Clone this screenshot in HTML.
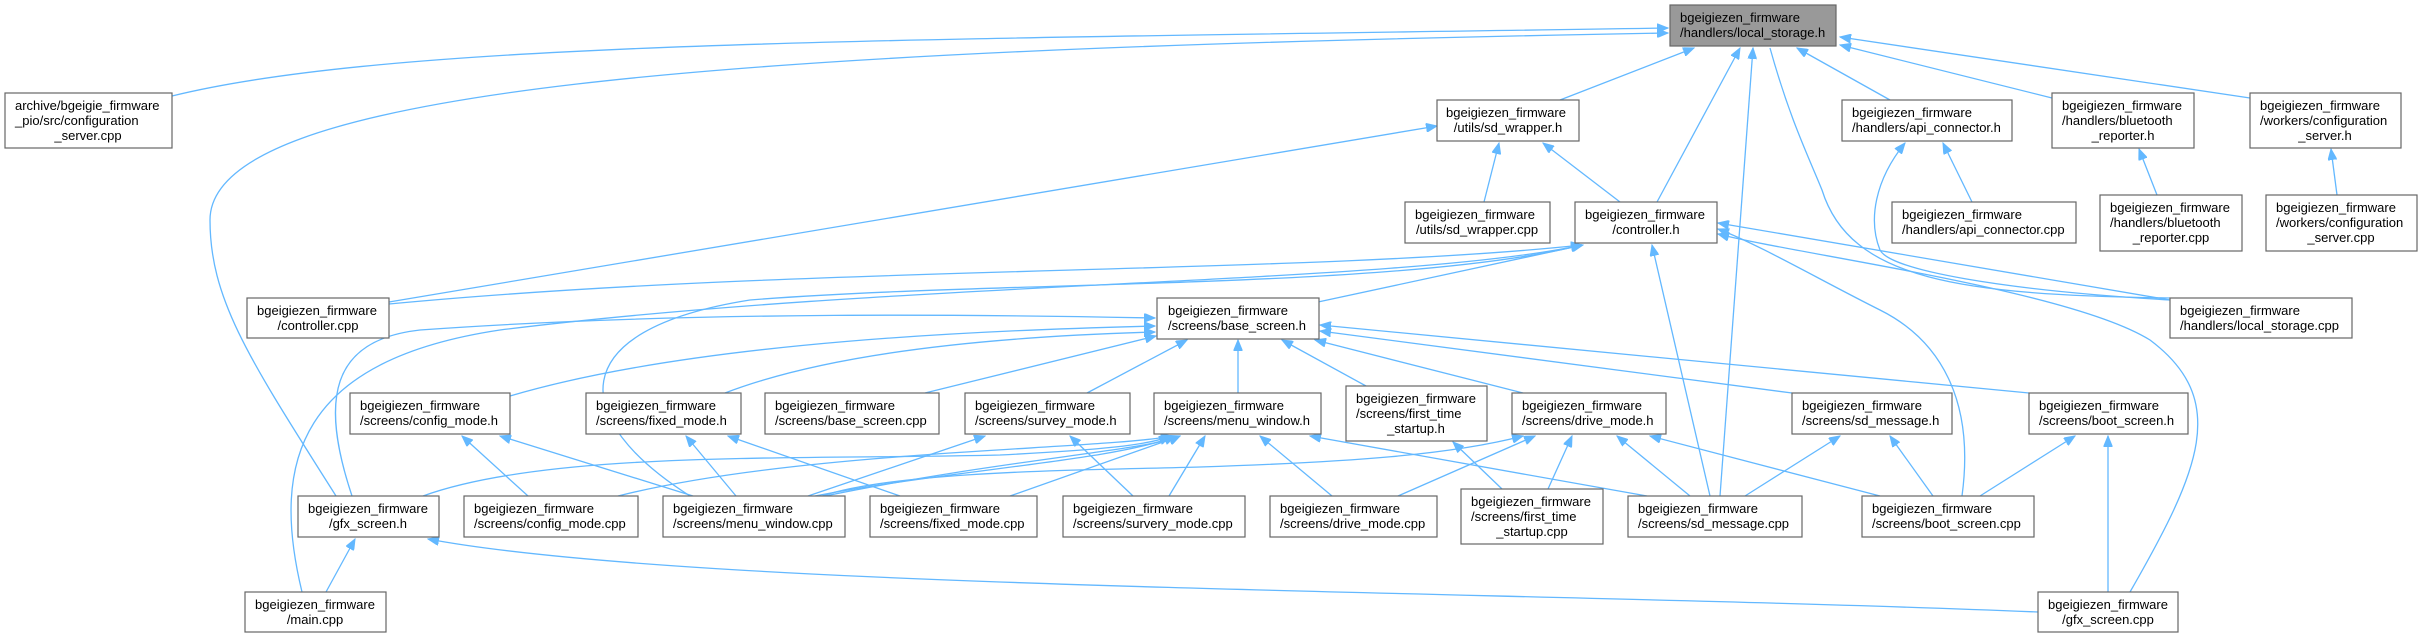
<!DOCTYPE html>
<html><head><meta charset="utf-8"><style>
html,body{margin:0;padding:0;background:#fff;}
svg{display:block;}
text{font-family:"Liberation Sans",Arial,sans-serif;font-size:13px;fill:#000;}
.e{fill:none;stroke:#63b8ff;stroke-width:1.3;}
.n{fill:#fff;stroke:#666;stroke-width:1.2;}
.g{fill:#999;stroke:#666;stroke-width:1.2;}
</style></head><body>
<svg width="2423" height="637" viewBox="0 0 2423 637" xmlns="http://www.w3.org/2000/svg">
<defs><marker id="a" markerUnits="userSpaceOnUse" markerWidth="12" markerHeight="9" refX="11" refY="4.5" orient="auto"><path d="M0,0 L11,4.5 L0,9 z" fill="#63b8ff" stroke="#63b8ff"/></marker></defs>
<g class="e" marker-end="url(#a)">
<!-- to local_storage.h -->
<path d="M172,96 C400,40 900,40 1668,28"/>
<path d="M336,496 C250,360 210,300 210,220 C210,90 700,50 1668,33"/>
<path d="M1560,100 L1694,48"/>
<path d="M1657,202 L1740,48"/>
<path d="M1720,496 L1753,48"/>
<path d="M1822,190 C1850,280 1960,295 2170,298 M1770,48 C1790,120 1810,160 1822,190" marker-end="none"/>
<path d="M1890,100 L1797,48"/>
<path d="M2052,98 L1840,45"/>
<path d="M2250,98 L1840,37"/>
<!-- sd_wrapper.h -->
<path d="M389,302 L1437,126"/>
<path d="M1484,202 L1499,143"/>
<path d="M1620,202 L1543,143"/>
<!-- api_connector -->
<path d="M1972,202 L1943,143"/>
<path d="M2170,300 C2000,290 1890,270 1880,250 C1868,220 1875,180 1905,143"/>
<path d="M2157,195 L2139,149"/>
<path d="M2337,195 L2331,149"/>
<!-- controller.h -->
<path d="M389,304 C800,265 1300,275 1582,245"/>
<path d="M302,592 C270,460 300,360 500,330 C900,280 1400,285 1582,245"/>
<path d="M690,496 C570,420 560,330 750,300 C1000,280 1400,290 1582,245"/>
<path d="M1318,302 L1583,245"/>
<path d="M1710,496 L1652,245"/>
<path d="M2170,300 L1718,223"/>
<path d="M1962,496 C1975,400 1940,340 1880,310 C1820,280 1760,245 1718,229"/>
<path d="M2130,592 C2200,470 2230,400 2150,340 C2070,290 1800,255 1718,234"/>
<!-- gfx_screen.h -->
<path d="M326,592 L355,539"/>
<path d="M2038,612 C1500,590 700,590 428,539"/>
<!-- base_screen.h -->
<path d="M352,496 C320,400 330,340 420,330 C700,310 1000,315 1155,318"/>
<path d="M510,396 C700,340 1000,330 1155,326"/>
<path d="M725,393 C850,345 1050,335 1155,332"/>
<path d="M925,393 L1156,336"/>
<path d="M1087,393 L1187,340"/>
<path d="M1238,393 L1238,340"/>
<path d="M1366,386 L1282,340"/>
<path d="M1523,393 L1315,340"/>
<path d="M1792,393 L1320,331"/>
<path d="M2029,393 L1320,325"/>
<!-- config_mode.h -->
<path d="M528,496 L462,436"/>
<path d="M693,496 L500,436"/>
<!-- fixed_mode.h -->
<path d="M736,496 L686,436"/>
<path d="M900,496 L728,436"/>
<!-- survey_mode.h -->
<path d="M808,496 L985,436"/>
<path d="M1133,496 L1070,436"/>
<!-- menu_window.h -->
<path d="M423,496 C550,450 800,460 1000,455 C1100,450 1150,445 1170,436"/>
<path d="M618,496 C800,450 1100,450 1172,436"/>
<path d="M815,496 C950,470 1120,460 1175,436"/>
<path d="M825,496 C1000,460 1150,450 1180,436"/>
<path d="M1010,496 L1180,436"/>
<path d="M1169,496 L1205,436"/>
<path d="M1332,496 L1260,436"/>
<path d="M1647,496 L1310,436"/>
<!-- drive_mode.h -->
<path d="M822,496 C900,470 1100,470 1200,467 C1350,462 1450,455 1523,436"/>
<path d="M1398,496 L1535,436"/>
<path d="M1548,489 L1572,436"/>
<path d="M1690,496 L1617,436"/>
<path d="M1880,496 L1650,436"/>
<path d="M1502,489 L1453,442"/>
<!-- sd_message.h -->
<path d="M1745,496 L1840,436"/>
<path d="M1933,496 L1890,436"/>
<!-- boot_screen.h -->
<path d="M1980,496 L2075,436"/>
<path d="M2108,592 L2108,436"/>
</g>
<g>
<rect class="g" x="1670" y="5" width="166" height="41"/>
<text x="1680" y="22">bgeigiezen_firmware</text><text x="1680" y="37">/handlers/local_storage.h</text>

<rect class="n" x="5" y="93" width="167" height="55"/>
<text x="15" y="110">archive/bgeigie_firmware</text><text x="15" y="125">_pio/src/configuration</text><text x="88" y="140" text-anchor="middle">_server.cpp</text>

<rect class="n" x="1437" y="100" width="142" height="41"/>
<text x="1446" y="117">bgeigiezen_firmware</text><text x="1508" y="132" text-anchor="middle">/utils/sd_wrapper.h</text>
<rect class="n" x="1842" y="100" width="170" height="41"/>
<text x="1852" y="117">bgeigiezen_firmware</text><text x="1852" y="132">/handlers/api_connector.h</text>
<rect class="n" x="2052" y="93" width="142" height="55"/>
<text x="2062" y="110">bgeigiezen_firmware</text><text x="2062" y="125">/handlers/bluetooth</text><text x="2123" y="140" text-anchor="middle">_reporter.h</text>
<rect class="n" x="2250" y="93" width="151" height="55"/>
<text x="2260" y="110">bgeigiezen_firmware</text><text x="2260" y="125">/workers/configuration</text><text x="2325" y="140" text-anchor="middle">_server.h</text>

<rect class="n" x="1405" y="202" width="145" height="41"/>
<text x="1415" y="219">bgeigiezen_firmware</text><text x="1477" y="234" text-anchor="middle">/utils/sd_wrapper.cpp</text>
<rect class="n" x="1575" y="202" width="142" height="41"/>
<text x="1585" y="219">bgeigiezen_firmware</text><text x="1646" y="234" text-anchor="middle">/controller.h</text>
<rect class="n" x="1892" y="202" width="184" height="41"/>
<text x="1902" y="219">bgeigiezen_firmware</text><text x="1902" y="234">/handlers/api_connector.cpp</text>
<rect class="n" x="2100" y="195" width="142" height="56"/>
<text x="2110" y="212">bgeigiezen_firmware</text><text x="2110" y="227">/handlers/bluetooth</text><text x="2171" y="242" text-anchor="middle">_reporter.cpp</text>
<rect class="n" x="2266" y="195" width="151" height="56"/>
<text x="2276" y="212">bgeigiezen_firmware</text><text x="2276" y="227">/workers/configuration</text><text x="2341" y="242" text-anchor="middle">_server.cpp</text>

<rect class="n" x="247" y="298" width="142" height="40"/>
<text x="257" y="315">bgeigiezen_firmware</text><text x="318" y="330" text-anchor="middle">/controller.cpp</text>
<rect class="n" x="1157" y="298" width="162" height="41"/>
<text x="1168" y="315">bgeigiezen_firmware</text><text x="1168" y="330">/screens/base_screen.h</text>
<rect class="n" x="2170" y="298" width="182" height="40"/>
<text x="2180" y="315">bgeigiezen_firmware</text><text x="2180" y="330">/handlers/local_storage.cpp</text>

<rect class="n" x="350" y="393" width="160" height="41"/>
<text x="360" y="410">bgeigiezen_firmware</text><text x="360" y="425">/screens/config_mode.h</text>
<rect class="n" x="586" y="393" width="155" height="41"/>
<text x="596" y="410">bgeigiezen_firmware</text><text x="596" y="425">/screens/fixed_mode.h</text>
<rect class="n" x="765" y="393" width="174" height="41"/>
<text x="775" y="410">bgeigiezen_firmware</text><text x="775" y="425">/screens/base_screen.cpp</text>
<rect class="n" x="965" y="393" width="165" height="41"/>
<text x="975" y="410">bgeigiezen_firmware</text><text x="975" y="425">/screens/survey_mode.h</text>
<rect class="n" x="1154" y="393" width="167" height="41"/>
<text x="1164" y="410">bgeigiezen_firmware</text><text x="1164" y="425">/screens/menu_window.h</text>
<rect class="n" x="1346" y="386" width="141" height="55"/>
<text x="1356" y="403">bgeigiezen_firmware</text><text x="1356" y="418">/screens/first_time</text><text x="1416" y="433" text-anchor="middle">_startup.h</text>
<rect class="n" x="1512" y="393" width="154" height="41"/>
<text x="1522" y="410">bgeigiezen_firmware</text><text x="1522" y="425">/screens/drive_mode.h</text>
<rect class="n" x="1792" y="393" width="160" height="41"/>
<text x="1802" y="410">bgeigiezen_firmware</text><text x="1802" y="425">/screens/sd_message.h</text>
<rect class="n" x="2029" y="393" width="159" height="41"/>
<text x="2039" y="410">bgeigiezen_firmware</text><text x="2039" y="425">/screens/boot_screen.h</text>

<rect class="n" x="298" y="496" width="141" height="41"/>
<text x="308" y="513">bgeigiezen_firmware</text><text x="368" y="528" text-anchor="middle">/gfx_screen.h</text>
<rect class="n" x="464" y="496" width="174" height="41"/>
<text x="474" y="513">bgeigiezen_firmware</text><text x="474" y="528">/screens/config_mode.cpp</text>
<rect class="n" x="663" y="496" width="182" height="41"/>
<text x="673" y="513">bgeigiezen_firmware</text><text x="673" y="528">/screens/menu_window.cpp</text>
<rect class="n" x="870" y="496" width="167" height="41"/>
<text x="880" y="513">bgeigiezen_firmware</text><text x="880" y="528">/screens/fixed_mode.cpp</text>
<rect class="n" x="1063" y="496" width="182" height="41"/>
<text x="1073" y="513">bgeigiezen_firmware</text><text x="1073" y="528">/screens/survery_mode.cpp</text>
<rect class="n" x="1270" y="496" width="167" height="41"/>
<text x="1280" y="513">bgeigiezen_firmware</text><text x="1280" y="528">/screens/drive_mode.cpp</text>
<rect class="n" x="1461" y="489" width="142" height="55"/>
<text x="1471" y="506">bgeigiezen_firmware</text><text x="1471" y="521">/screens/first_time</text><text x="1532" y="536" text-anchor="middle">_startup.cpp</text>
<rect class="n" x="1628" y="496" width="174" height="41"/>
<text x="1638" y="513">bgeigiezen_firmware</text><text x="1638" y="528">/screens/sd_message.cpp</text>
<rect class="n" x="1862" y="496" width="172" height="41"/>
<text x="1872" y="513">bgeigiezen_firmware</text><text x="1872" y="528">/screens/boot_screen.cpp</text>

<rect class="n" x="245" y="592" width="141" height="40"/>
<text x="255" y="609">bgeigiezen_firmware</text><text x="315" y="624" text-anchor="middle">/main.cpp</text>
<rect class="n" x="2038" y="592" width="140" height="40"/>
<text x="2048" y="609">bgeigiezen_firmware</text><text x="2108" y="624" text-anchor="middle">/gfx_screen.cpp</text>
</g>
</svg>
</body></html>
